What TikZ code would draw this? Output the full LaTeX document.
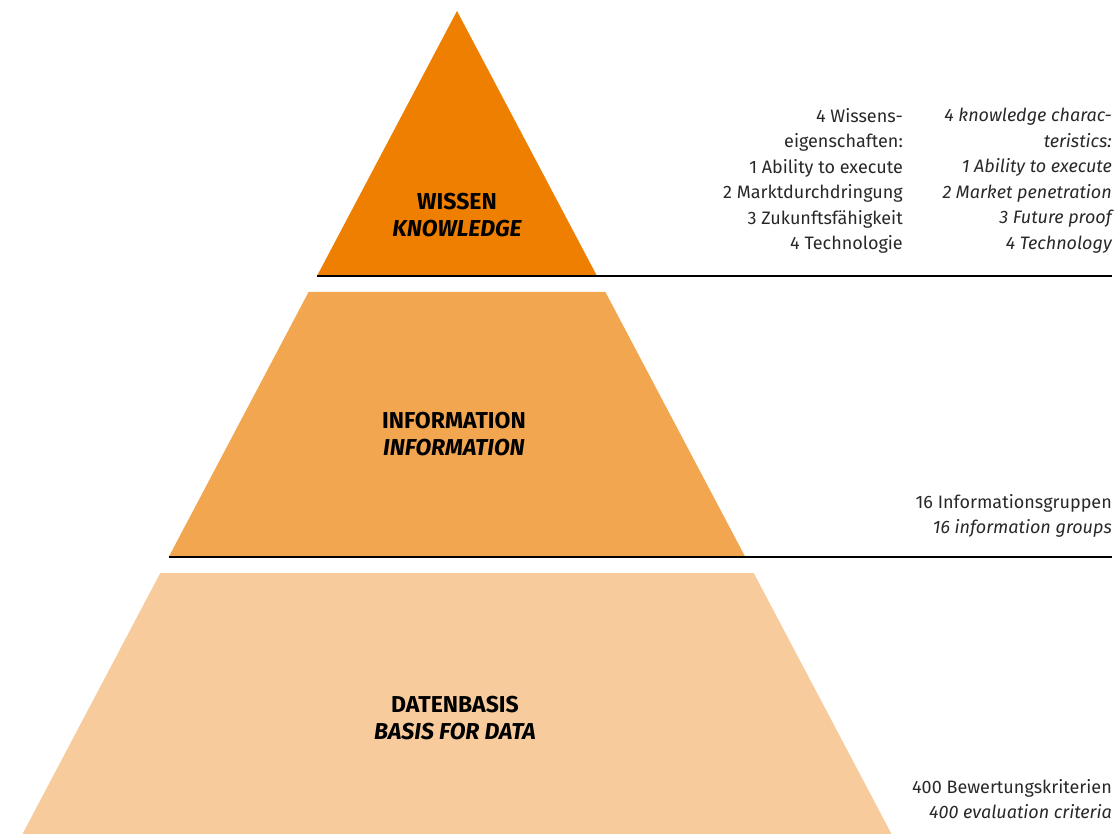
\documentclass[tikz,border=0pt]{standalone}
\usepackage{fontspec}
\setmainfont{Fira Sans}
\definecolor{wissencol}{RGB}{239,127,0}
\definecolor{infocol}{RGB}{243,166,80}
\definecolor{datencol}{RGB}{247,203,156}
\definecolor{textcol}{RGB}{40,40,40}
\begin{document}
\begin{tikzpicture}[x=1pt,y=-1pt]
    \tikzstyle{layer}=[draw=none]
    \tikzstyle{title}=[inner sep=0pt, align=center, font=\fontsize{23}{27}\selectfont\bfseries]
    \tikzstyle{note}=[inner sep=0pt, align=right, text=textcol, font=\fontsize{18}{25.5}\selectfont]
    \tikzstyle{rule}=[line width=1.4pt, black]
    
    \useasboundingbox (0,0) rectangle (1116,834);
    
    % pyramid layers
    \fill[layer, wissencol] (457,11) -- (597,276) -- (317,276) -- cycle;
    \fill[layer, infocol] (308.6,292) -- (605.4,292) -- (745.3,557) -- (168.7,557) -- cycle;
    \fill[layer, datencol] (160.3,573) -- (753.7,573) -- (891.5,834) -- (22.5,834) -- cycle;
    
    % layer titles
    \node[title] (wissen) at (457,215) {WISSEN\\\itshape KNOWLEDGE};
    \node[title] (info) at (454,434) {INFORMATION\\\itshape INFORMATION};
    \node[title] (daten) at (455,718) {DATENBASIS\\\itshape BASIS FOR DATA};
    
    % separating rules
    \coordinate (kl) at (317,276);
    \coordinate (kr) at (1112,276);
    \coordinate (il) at (168.7,557);
    \coordinate (ir) at (1112,557);
    \draw[rule] (kl) -- (kr);
    \draw[rule] (il) -- (ir);
    
    % notes
    \node[note, anchor=north east] (wissende) at (903,108)
        {4 Wissens-\\eigenschaften:\\1 Ability to execute\\2 Marktdurchdringung\\3 Zukunftsfähigkeit\\4 Technologie};
    \node[note, anchor=north east, font=\fontsize{18}{25.5}\selectfont\itshape] (wissenen) at (1112,108)
        {4 knowledge charac-\\teristics:\\1 Ability to execute\\2 Market penetration\\3 Future proof\\4 Technology};
    \node[note, anchor=north east] (infonote) at (1112,494)
        {16 Informationsgruppen\\\itshape 16 information groups};
    \node[note, anchor=north east] (datennote) at (1112,779)
        {400 Bewertungskriterien\\\itshape 400 evaluation criteria};
\end{tikzpicture}
\end{document}
